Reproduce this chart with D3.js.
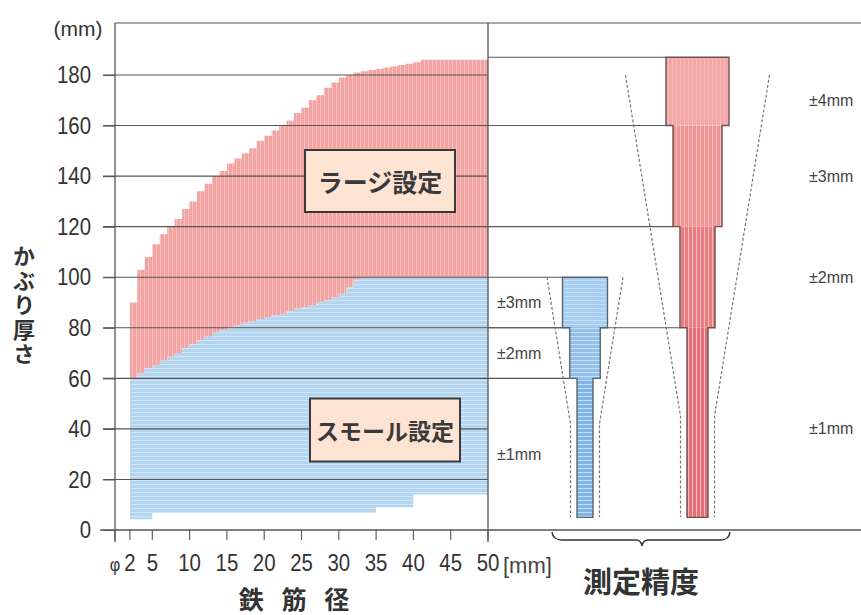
<!DOCTYPE html>
<html>
<head>
<meta charset="utf-8">
<script src="https://cdn.jsdelivr.net/npm/d3@7"></script>
<style>
  body { margin: 0; background: #fff; }
  svg { display: block; }
</style>
</head>
<body>
<svg id="chart" width="861" height="615"></svg>
<script>
// rebar diameter (mm), one step per mm
const diameters = [2,3,4,5,6,7,8,9,10,11,12,13,14,15,16,17,18,19,20,21,22,23,24,25,26,27,28,29,30,
  31,32,33,34,35,36,37,38,39,40,41,42,43,44,45,46,47,48,49,50];
// measurable cover depth, large setting (upper limit, mm)
const largeTop = [90,103,108,113,117,120,123,127,130,134,137,140,142,145,147,149,151,154,156,158,160,162,165,167,170,172,175,177,179,
  180,181,181.5,182,182.5,183,183.5,184,184.5,185,186,186,186,186,186,186,186,186,186,186.5];
// small setting (upper / lower limit, mm)
const smallTop = [60,62,64,65,67,68.5,70,72,73.5,75,76.5,78,79,80,81,82,82.5,83.5,84,85,85.5,86.5,87.5,88,89,90,91,92,93.5,
  96,99,100,100,100,100,100,100,100,100,100,100,100,100,100,100,100,100,100,100];
const smallBottom = [4.3,4.3,4.3,6.7,6.7,6.7,6.7,6.7,6.7,6.7,6.7,6.7,6.7,6.7,6.7,6.7,6.7,6.7,6.7,6.7,6.7,6.7,6.7,6.7,6.7,6.7,6.7,6.7,6.7,
  6.7,6.7,6.7,6.7,9,9,9,9,9,14,14,14,14,14,14,14,14,14,14,14];

const xTicks = [0,2,5,10,15,20,25,30,35,40,45,50];
const yTicks = [0,20,40,60,80,100,120,140,160,180];

// measuring accuracy bands (cover depth limits, mm) and accuracy (± mm)
const smallBands = [0,60,80,100];
const smallAcc = [1,2,3];
const largeBands = [0,80,120,160,187];
const largeAcc = [1,2,3,4];
const rodBase = 5;

const svg = d3.select("#chart");
const W = 861;
const x = d3.scaleLinear().domain([0,50]).range([115,488]);
const y = d3.scaleLinear().domain([0,180]).range([530,75]);
const xDiv = x(50);

const data = diameters.map((d,i) => ({d, lTop: largeTop[i], sTop: smallTop[i], sBot: smallBottom[i]}));

//patterns
const defs = svg.append("defs");
function pattern(id, base, stripe, vertical) {
  const p = defs.append("pattern").attr("id", id)
    .attr("patternUnits", "userSpaceOnUse").attr("width", 4).attr("height", 4);
  p.append("rect").attr("width", 4).attr("height", 4).attr("fill", base);
  if (vertical) p.append("line").attr("x1", 0.5).attr("x2", 0.5).attr("y1", 0).attr("y2", 4)
    .attr("stroke", stripe).attr("stroke-width", 1);
  else p.append("line").attr("y1", 0.5).attr("y2", 0.5).attr("x1", 0).attr("x2", 4)
    .attr("stroke", stripe).attr("stroke-width", 1);
  return `url(#${id})`;
}
const redFill = pattern("redV", "#f2a3a2", "#f7c2c0", true);
const blueFill = pattern("blueH", "#b3d5f0", "#d0e6f7", false);

// areas
const areaLarge = d3.area().curve(d3.curveStepAfter)
  .x(d => x(d.d)).y0(d => y(d.sTop)).y1(d => y(d.lTop));
const areaSmall = d3.area().curve(d3.curveStepAfter)
  .x(d => x(d.d)).y0(d => y(d.sBot)).y1(d => y(d.sTop));
svg.append("path").datum(data).attr("d", areaLarge).attr("fill", redFill);
svg.append("path").datum(data).attr("d", areaSmall).attr("fill", blueFill);

const lineCol = "#555";

// gridlines, left panel
svg.append("g").selectAll("line").data(yTicks.filter(v => v > 0)).join("line")
  .attr("x1", 103).attr("x2", xDiv).attr("y1", d => y(d)).attr("y2", d => y(d))
  .attr("stroke", lineCol).attr("stroke-width", 1.1);

// setting labels
const boxes = [
  {text: "ラージ設定", cx: 380, cy: 181, w: 150, h: 62, fs: 25},
  {text: "スモール設定", cx: 385, cy: 430, w: 150, h: 63, fs: 23}
];
const gb = svg.append("g").selectAll("g").data(boxes).join("g");
gb.append("rect").attr("x", d => d.cx - d.w/2).attr("y", d => d.cy - d.h/2)
  .attr("width", d => d.w).attr("height", d => d.h)
  .attr("fill", "#fde4d2").attr("stroke", "#3a3a3a").attr("stroke-width", 2);
gb.append("text").attr("x", d => d.cx).attr("y", d => d.cy)
  .attr("text-anchor", "middle").attr("dominant-baseline", "central")
  .attr("font-family", "'Noto Sans CJK JP', sans-serif").attr("font-weight", "bold")
  .attr("font-size", d => d.fs).attr("fill", "#3a3a3a").text(d => d.text);

// right panel: accuracy rods
const rods = [
  {bands: smallBands, acc: smallAcc, cx: 585, w: d3.scaleLinear().domain([1,3]).range([16,45]),
   colors: ["#80b4e6","#93c1ea","#a7cdef"], stripe: "#c4def5", vertical: false,
   funnel: {top: 100, neck: 42, wTop: 38, wNeck: 14.5}, labelX: 497, outline: "#5a6470"},
  {bands: largeBands, acc: largeAcc, cx: 697.5, w: d3.scaleLinear().domain([1,4]).range([21,63]),
   colors: ["#e47077","#ea7d81","#f09596","#f4a8a8"], stripe: "#f6bcbc", vertical: true,
   funnel: {top: 180, neck: 45, wTop: 72, wNeck: 17}, labelX: 809, outline: "#6e5050"}
];

// lines from divider to rods at band limits
rods.forEach(r => {
  r.bands.slice(1).forEach((b, i) => {
    const accMax = Math.max(r.acc[i], r.acc[i+1] || 0);
    svg.append("line").attr("x1", xDiv).attr("x2", r.cx - r.w(accMax)/2)
      .attr("y1", y(b)).attr("y2", y(b)).attr("stroke", lineCol).attr("stroke-width", 1.1);
  });
});

rods.forEach((r, ri) => {
  const segs = r.acc.map((a, i) => ({a, lo: i === 0 ? rodBase : r.bands[i], hi: r.bands[i+1], mid: (r.bands[i] + Math.min(r.bands[i+1], 180)) / 2}));
  // funnel (dashed)
  const f = r.funnel;
  const dash = d3.line();
  [-1, 1].forEach(s => {
    svg.append("path")
      .attr("d", dash([[r.cx + s*f.wTop, y(f.top)], [r.cx + s*f.wNeck, y(f.neck)], [r.cx + s*f.wNeck, y(rodBase)]]))
      .attr("fill", "none").attr("stroke", "#777").attr("stroke-width", 1.2).attr("stroke-dasharray", "3,2");
  });
  // segments
  svg.append("g").selectAll("rect").data(segs).join("rect")
    .attr("x", d => r.cx - r.w(d.a)/2).attr("width", d => r.w(d.a))
    .attr("y", d => y(d.hi)).attr("height", d => y(d.lo) - y(d.hi))
    .attr("fill", (d, i) => pattern(`rod${ri}_${i}`, r.colors[i], r.stripe, r.vertical));
  // stepped outline: up the left side, down the right side
  const left = [], right = [];
  segs.forEach(d => {
    const hw = r.w(d.a) / 2;
    left.push([r.cx - hw, y(d.lo)], [r.cx - hw, y(d.hi)]);
    right.unshift([r.cx + hw, y(d.hi)], [r.cx + hw, y(d.lo)]);
  });
  svg.append("path").attr("d", d3.line()(left.concat(right)) + "Z")
    .attr("fill", "none").attr("stroke", r.outline).attr("stroke-width", 1.4);
  // accuracy labels
  svg.append("g").selectAll("text").data(segs).join("text")
    .attr("x", r.labelX).attr("y", d => y(d.mid)).attr("dominant-baseline", "central")
    .attr("font-family", "'Liberation Sans', Arial, sans-serif").attr("font-size", 16)
    .attr("fill", "#444").text(d => `±${d.a}mm`);
});

// frame
svg.append("line").attr("x1", x(0)).attr("x2", W).attr("y1", 23).attr("y2", 23).attr("stroke", lineCol).attr("stroke-width", 1.1);
svg.append("line").attr("x1", 100).attr("x2", W).attr("y1", y(0)).attr("y2", y(0)).attr("stroke", lineCol).attr("stroke-width", 1.3);
svg.append("line").attr("x1", x(0)).attr("x2", x(0)).attr("y1", 23).attr("y2", 542).attr("stroke", lineCol).attr("stroke-width", 1.3);
svg.append("line").attr("x1", xDiv).attr("x2", xDiv).attr("y1", 23).attr("y2", 542).attr("stroke", lineCol).attr("stroke-width", 1.3);

// axes
const sx = 0.85;
const yAxis = svg.append("g").attr("transform", `translate(${x(0)},0)`)
  .call(d3.axisLeft(y).tickValues(yTicks).tickSize(12).tickPadding(12));
yAxis.select(".domain").remove();
yAxis.selectAll("line").attr("stroke", lineCol).attr("stroke-width", 1.1);
yAxis.selectAll("text").attr("font-family", "'Liberation Sans', Arial, sans-serif").attr("font-size", 24)
  .attr("fill", "#333").attr("x", -24 / sx).attr("transform", `scale(${sx},1)`);

const xAxis = svg.append("g").attr("transform", `translate(0,${y(0)})`)
  .call(d3.axisBottom(x).tickValues(xTicks).tickSize(10).tickPadding(14)
    .tickFormat(d => d === 0 ? "φ" : d));
xAxis.select(".domain").remove();
xAxis.selectAll("line").attr("stroke", lineCol).attr("stroke-width", 1.1);
xAxis.selectAll(".tick").each(function(d) {
  const t = d3.select(this);
  t.attr("transform", `translate(${x(d)},0) scale(${sx},1)`);
  t.select("line").attr("transform", `scale(${1/sx},1)`);
});
xAxis.selectAll("text").attr("font-family", "'Liberation Sans', Arial, sans-serif").attr("font-size", 24)
  .attr("fill", "#333").attr("dy", "0.71em");
xAxis.selectAll(".tick").filter(d => d === 0).select("text").attr("font-size", 19).attr("dy", "0.9em");

// units
svg.append("text").attr("x", 78).attr("y", 28).attr("text-anchor", "middle").attr("dominant-baseline", "central")
  .attr("font-family", "'Liberation Sans', Arial, sans-serif").attr("font-size", 21).attr("fill", "#333").text("(mm)");
svg.append("text").attr("x", 503).attr("y", 565).attr("dominant-baseline", "central")
  .attr("font-family", "'Liberation Sans', Arial, sans-serif").attr("font-size", 22).attr("fill", "#444").text("[mm]");

// axis titles
const jp = "'Noto Sans CJK JP', sans-serif";
svg.append("text").attr("x", 24).attr("y", 245)
  .style("writing-mode", "vertical-rl").attr("letter-spacing", 2.5)
  .attr("font-family", jp).attr("font-weight", "bold").attr("font-size", 22).attr("fill", "#333")
  .text("かぶり厚さ");
svg.append("text").attr("x", 297).attr("y", 598).attr("text-anchor", "middle").attr("dominant-baseline", "central")
  .attr("font-family", jp).attr("font-weight", "bold").attr("font-size", 25).attr("letter-spacing", 6)
  .attr("fill", "#333").text("鉄 筋 径");
svg.append("text").attr("x", 641).attr("y", 580).attr("text-anchor", "middle").attr("dominant-baseline", "central")
  .attr("font-family", jp).attr("font-weight", "bold").attr("font-size", 29).attr("fill", "#333").text("測定精度");

// brace under the accuracy panel
svg.append("path")
  .attr("d", "M552,532 Q553,540 562,540 L636,540 Q641,540 642,546 Q643,540 648,540 L721,540 Q729,540 730,532")
  .attr("fill", "none").attr("stroke", "#333").attr("stroke-width", 1.5);
</script>
</body>
</html>
